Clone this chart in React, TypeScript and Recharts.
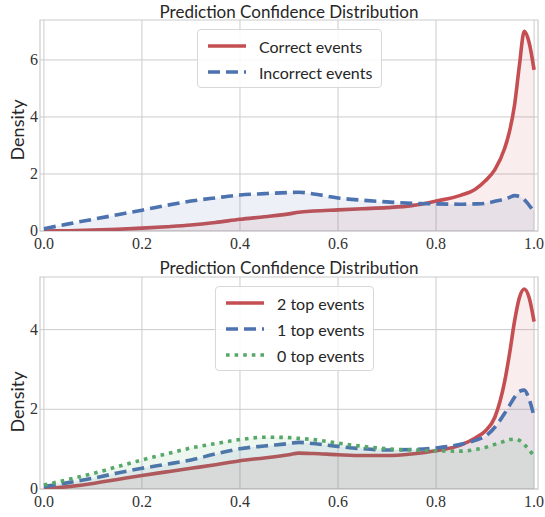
import React from "react";
import { ComposedChart, Area, XAxis, YAxis, CartesianGrid, ReferenceArea } from "recharts";

const xs = [0, 0.05, 0.1, 0.15, 0.2, 0.25, 0.3, 0.35, 0.4, 0.45, 0.5, 0.52, 0.55, 0.6, 0.65, 0.7, 0.75, 0.8, 0.85, 0.88, 0.9, 0.92, 0.94, 0.95, 0.96, 0.97, 0.98, 0.99, 1.0];

const correctEvents = [0, 0.01, 0.03, 0.06, 0.1, 0.15, 0.21, 0.3, 0.41, 0.5, 0.6, 0.66, 0.7, 0.74, 0.78, 0.82, 0.89, 1.05, 1.25, 1.46, 1.75, 2.15, 2.9, 3.5, 4.4, 5.8, 7.0, 6.6, 5.65];
const incorrectEvents = [0.08, 0.25, 0.41, 0.57, 0.73, 0.9, 1.05, 1.16, 1.26, 1.31, 1.35, 1.36, 1.3, 1.16, 1.08, 1.02, 0.97, 0.95, 0.94, 0.95, 0.97, 1.04, 1.12, 1.18, 1.24, 1.22, 1.1, 0.9, 0.68];

const top2Events = [0, 0.06, 0.14, 0.24, 0.34, 0.43, 0.52, 0.61, 0.71, 0.78, 0.86, 0.9, 0.89, 0.86, 0.84, 0.84, 0.88, 0.96, 1.1, 1.28, 1.45, 1.8, 2.7, 3.4, 4.2, 4.8, 5.02, 4.8, 4.2];
const top1Events = [0.06, 0.16, 0.27, 0.4, 0.52, 0.62, 0.73, 0.88, 1.01, 1.08, 1.14, 1.17, 1.14, 1.07, 1.01, 0.98, 0.99, 1.03, 1.12, 1.22, 1.32, 1.55, 1.9, 2.1, 2.3, 2.45, 2.48, 2.25, 1.82];
const top0Events = [0.1, 0.24, 0.39, 0.56, 0.73, 0.88, 1.03, 1.14, 1.24, 1.3, 1.29, 1.27, 1.24, 1.15, 1.07, 1.01, 0.98, 0.96, 0.95, 0.99, 1.04, 1.12, 1.2, 1.24, 1.25, 1.22, 1.12, 0.98, 0.82];

const xTicks = [0, 0.2, 0.4, 0.6, 0.8, 1.0];
const yTicksTop = [0, 2, 4, 6];
const yTicksBottom = [0, 2, 4];

const RED = "#c44e52";
const BLUE = "#4c72b0";
const GREEN = "#55a868";
const GRID = "#cccccc";
const TEXT = "#262626";
const SANS = "Lato, 'DejaVu Sans', sans-serif";
const SERIF = "'Liberation Serif', serif";

const topData = xs.map((x, i) => ({ x, correct: correctEvents[i], incorrect: incorrectEvents[i] }));
const bottomData = xs.map((x, i) => ({ x, t2: top2Events[i], t1: top1Events[i], t0: top0Events[i] }));

const XMIN = -0.008;
const XMAX = 1.008;
const TOP_YMAX = 7.4;
const BOT_YMAX = 5.32;

type Item = { label: string; color: string; dash?: string };

const LegendBox = ({ items, left, top }: { items: Item[]; left: number; top: number }) => (
  <div
    style={{
      position: "absolute",
      left,
      top,
      background: "rgba(255,255,255,0.85)",
      border: "1px solid #d8d8d8",
      borderRadius: 4,
      padding: "3px 9px 2px 9px",
      fontFamily: SANS,
      fontSize: 16,
      color: TEXT,
    }}
  >
    {items.map((it) => (
      <div key={it.label} style={{ display: "flex", alignItems: "center", height: 26 }}>
        <svg width={40} height={10} style={{ marginRight: 12 }}>
          <line x1={1} y1={5} x2={39} y2={5} stroke={it.color} strokeWidth={3.6} strokeDasharray={it.dash} strokeLinecap="butt" />
        </svg>
        <span>{it.label}</span>
      </div>
    ))}
  </div>
);

const XTick = (props: any) => {
  const { x, y, payload } = props;
  return (
    <text x={x} y={y + 10} textAnchor="middle" fontFamily={SERIF} fontSize={16} fill="#333">
      {Number(payload.value).toFixed(1)}
    </text>
  );
};

const YTick = (props: any) => {
  const { x, y, payload } = props;
  return (
    <text x={x + 6} y={y + 5} textAnchor="end" fontFamily={SERIF} fontSize={16} fill="#333">
      {payload.value}
    </text>
  );
};

const Title = ({ top }: { top: number }) => (
  <div
    style={{
      position: "absolute",
      left: 40,
      width: 498,
      top,
      textAlign: "center",
      fontFamily: SANS,
      fontSize: 17,
      color: TEXT,
      lineHeight: "20px",
    }}
  >
    Prediction Confidence Distribution
  </div>
);

const YLabel = ({ cy }: { cy: number }) => (
  <div
    style={{
      position: "absolute",
      left: 17,
      top: cy,
      transform: "translate(-50%, -50%) rotate(-90deg)",
      fontFamily: SANS,
      fontSize: 18,
      color: TEXT,
      whiteSpace: "nowrap",
    }}
  >
    Density
  </div>
);

export default function App() {
  return (
    <div style={{ position: "absolute", left: 0, top: 0, width: 545, height: 517, background: "#fff" }}>
      <div style={{ position: "absolute", left: 0, top: 0 }}>
        <ComposedChart width={545} height={252} data={topData} margin={{ top: 20, right: 7, bottom: 0, left: 0 }}>
          <CartesianGrid stroke={GRID} strokeWidth={1} horizontalValues={yTicksTop} verticalValues={xTicks} />
          <XAxis dataKey="x" type="number" domain={[XMIN, XMAX]} ticks={xTicks} axisLine={false} tickLine={false} tick={<XTick />} height={21} allowDataOverflow />
          <YAxis type="number" domain={[0, TOP_YMAX]} ticks={yTicksTop} axisLine={false} tickLine={false} tick={<YTick />} width={40} allowDataOverflow />
          <ReferenceArea x1={XMIN} x2={XMAX} y1={0} y2={TOP_YMAX} fill="none" stroke={GRID} strokeWidth={1.2} />
          <Area dataKey="correct" type="monotone" stroke={RED} strokeWidth={3.6} fill={RED} fillOpacity={0.1} isAnimationActive={false} dot={false} activeDot={false} />
          <Area dataKey="incorrect" type="monotone" stroke={BLUE} strokeWidth={3.6} strokeDasharray="12 6" fill={BLUE} fillOpacity={0.1} isAnimationActive={false} dot={false} activeDot={false} />
        </ComposedChart>
      </div>
      <LegendBox
        left={197}
        top={29}
        items={[
          { label: "Correct events", color: RED },
          { label: "Incorrect events", color: BLUE, dash: "12 6" },
        ]}
      />
      <Title top={2} />
      <YLabel cy={130} />

      <div style={{ position: "absolute", left: 0, top: 257 }}>
        <ComposedChart width={545} height={253} data={bottomData} margin={{ top: 20, right: 7, bottom: 0, left: 0 }}>
          <CartesianGrid stroke={GRID} strokeWidth={1} horizontalValues={yTicksBottom} verticalValues={xTicks} />
          <XAxis dataKey="x" type="number" domain={[XMIN, XMAX]} ticks={xTicks} axisLine={false} tickLine={false} tick={<XTick />} height={21} allowDataOverflow />
          <YAxis type="number" domain={[0, BOT_YMAX]} ticks={yTicksBottom} axisLine={false} tickLine={false} tick={<YTick />} width={40} allowDataOverflow />
          <ReferenceArea x1={XMIN} x2={XMAX} y1={0} y2={BOT_YMAX} fill="none" stroke={GRID} strokeWidth={1.2} />
          <Area dataKey="t2" type="monotone" stroke={RED} strokeWidth={3.6} fill={RED} fillOpacity={0.1} isAnimationActive={false} dot={false} activeDot={false} />
          <Area dataKey="t1" type="monotone" stroke={BLUE} strokeWidth={3.6} strokeDasharray="12 6" fill={BLUE} fillOpacity={0.1} isAnimationActive={false} dot={false} activeDot={false} />
          <Area dataKey="t0" type="monotone" stroke={GREEN} strokeWidth={3.6} strokeDasharray="3.6 5" fill={GREEN} fillOpacity={0.1} isAnimationActive={false} dot={false} activeDot={false} />
        </ComposedChart>
      </div>
      <LegendBox
        left={215}
        top={286}
        items={[
          { label: "2 top events", color: RED },
          { label: "1 top events", color: BLUE, dash: "12 6" },
          { label: "0 top events", color: GREEN, dash: "3.6 5" },
        ]}
      />
      <Title top={258} />
      <YLabel cy={402} />
    </div>
  );
}
